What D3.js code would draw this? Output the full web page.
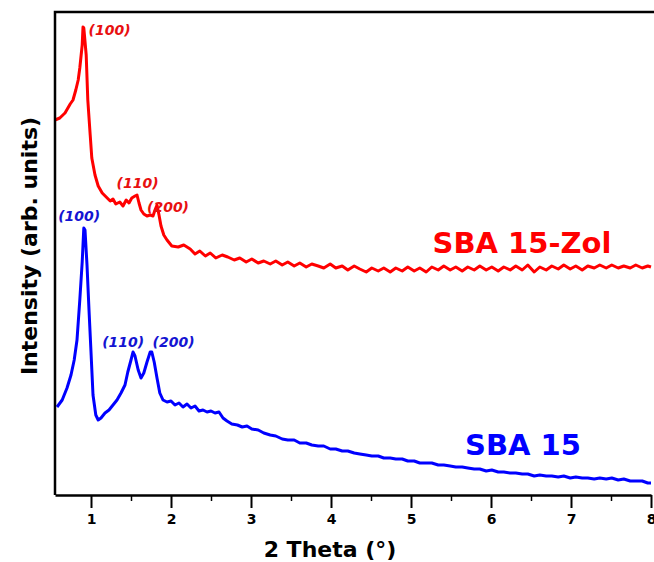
<!DOCTYPE html>
<html>
<head>
<meta charset="utf-8">
<script src="https://cdn.jsdelivr.net/npm/d3@7"></script>
<style>
  body { margin: 0; background: #fff; }
  svg { display: block; font-family: "DejaVu Sans", Verdana, sans-serif; }
</style>
</head>
<body>
<div id="chart"></div>
<script>
// 2 Theta values (deg) and intensities (arb. units)
const zolTheta = [0.55,0.61,0.675,0.74,0.775,0.81,0.84,0.86,0.89,0.90,0.91,0.94,0.96,0.99,1.01,1.05,1.09,1.14,1.19,1.24,1.275,1.31,1.36,1.40,1.44,1.475,1.51,1.55,1.575,1.60,1.625,1.66,1.70,1.74,1.775,1.80,1.825,1.85,1.875,1.91,1.95,2.01,2.09,2.16,2.24,2.30,2.36,2.43,2.49,2.56,2.64,2.71,2.79,2.86,2.94,3.01,3.09,3.16,3.24,3.31,3.39,3.46,3.54,3.61,3.69,3.76,3.84,3.91,3.99,4.06,4.14,4.21,4.29,4.36,4.44,4.51,4.59,4.66,4.74,4.81,4.89,4.96,5.04,5.11,5.19,5.26,5.34,5.41,5.49,5.56,5.64,5.71,5.79,5.86,5.94,6.01,6.09,6.16,6.24,6.31,6.39,6.46,6.54,6.61,6.69,6.76,6.84,6.91,6.99,7.06,7.14,7.21,7.29,7.36,7.44,7.51,7.59,7.66,7.74,7.81,7.89,7.96,8.0];
const zolIntensity = [375,377,382,391,395,405,415,427,450,468,467,440,395,360,337,320,309,302,298,294,296,291,293,289,295,292,297,299,300,292,285,281,279,280,279,285,290,280,269,260,255,249,248,250,246,241,244,239,242,237,240,238,235,237,233,236,232,234,231,234,230,233,229,232,228,231,229,227,231,227,229,225,229,226,223,227,224,227,223,227,224,228,224,227,223,228,225,229,225,228,224,228,225,229,225,228,224,228,225,229,225,230,223,228,225,229,226,230,226,229,225,229,227,230,227,230,227,229,227,230,227,229,228];

const sbaTheta = [0.575,0.64,0.70,0.75,0.79,0.825,0.86,0.89,0.91,0.925,0.95,0.975,1.0,1.025,1.06,1.09,1.125,1.175,1.225,1.275,1.325,1.375,1.425,1.46,1.50,1.525,1.55,1.59,1.625,1.66,1.70,1.74,1.76,1.79,1.825,1.86,1.90,1.95,2.0,2.05,2.10,2.15,2.20,2.25,2.30,2.35,2.40,2.45,2.50,2.55,2.60,2.65,2.70,2.76,2.83,2.89,2.95,3.01,3.09,3.16,3.24,3.31,3.39,3.46,3.54,3.61,3.69,3.76,3.84,3.91,3.99,4.06,4.14,4.21,4.29,4.36,4.44,4.51,4.59,4.66,4.74,4.81,4.89,4.96,5.04,5.11,5.19,5.26,5.34,5.41,5.49,5.56,5.64,5.71,5.79,5.86,5.94,6.01,6.09,6.16,6.24,6.31,6.39,6.46,6.54,6.61,6.69,6.76,6.84,6.91,6.99,7.06,7.14,7.21,7.29,7.36,7.44,7.51,7.59,7.66,7.74,7.81,7.89,7.96,8.0];
const sbaIntensity = [88,95,107,120,135,155,195,233,267,265,230,185,143,100,80,75,77,82,85,90,95,102,110,123,135,143,139,125,117,122,133,143,143,133,117,102,95,93,94,90,92,88,91,87,89,84,85,83,84,82,83,77,74,71,70,68,69,66,65,62,60,59,56,55,55,52,52,50,49,49,46,46,44,44,42,41,40,39,39,37,37,36,36,34,34,32,32,32,30,30,29,28,28,27,26,26,24,25,23,23,22,22,21,21,19,20,19,19,18,19,17,18,17,17,16,17,16,17,15,16,14,14,14,12,12];

const xTicks = [1, 2, 3, 4, 5, 6, 7, 8];
const xMinorTicks = [1.5, 2.5, 3.5, 4.5, 5.5, 6.5, 7.5];

// peak labels: [theta, intensity, text]
const zolPeaks = [[0.97, 460, "(100)"], [1.32, 307, "(110)"], [1.70, 283, "(200)"]];
const sbaPeaks = [[0.59, 274, "(100)"], [1.14, 148, "(110)"], [1.77, 148, "(200)"]];

const width = 654, height = 562;
const margin = { top: 12, right: 3, bottom: 67, left: 55 };

const svg = d3.select("#chart").append("svg")
    .attr("width", width)
    .attr("height", height);

const x = d3.scaleLinear()
    .domain([0.55, 8.0])
    .range([margin.left, width - margin.right]);

const y = d3.scaleLinear()
    .domain([0, 483])
    .range([height - margin.bottom, margin.top]);

const line = d3.line()
    .x(d => x(d[0]))
    .y(d => y(d[1]));

const zolData = d3.zip(zolTheta, zolIntensity);
const sbaData = d3.zip(sbaTheta, sbaIntensity);

svg.append("path")
    .datum(zolData)
    .attr("fill", "none")
    .attr("stroke", "#ff0000")
    .attr("stroke-width", 3)
    .attr("stroke-linejoin", "round")
    .attr("d", line);

svg.append("path")
    .datum(sbaData)
    .attr("fill", "none")
    .attr("stroke", "#0000ff")
    .attr("stroke-width", 3)
    .attr("stroke-linejoin", "round")
    .attr("d", line);

// frame: left and top
svg.append("path")
    .attr("fill", "none")
    .attr("stroke", "#000")
    .attr("stroke-width", 2.5)
    .attr("d", `M${width},${margin.top}H${margin.left}V${height - margin.bottom}`);

// x axis
const xAxis = svg.append("g")
    .attr("transform", `translate(0,${height - margin.bottom})`)
    .call(d3.axisBottom(x).tickValues(xTicks).tickFormat(d3.format("d")).tickSize(13).tickSizeOuter(0).tickPadding(6));

xAxis.select(".domain").attr("stroke-width", 2.5);
xAxis.selectAll(".tick line").attr("stroke-width", 2);
xAxis.selectAll(".tick text")
    .attr("font-size", 14)
    .attr("font-weight", "bold")
    .attr("font-family", "DejaVu Sans, sans-serif");

svg.append("g")
    .attr("transform", `translate(0,${height - margin.bottom})`)
    .call(d3.axisBottom(x).tickValues(xMinorTicks).tickFormat("").tickSize(6).tickSizeOuter(0))
    .call(g => g.select(".domain").remove())
    .selectAll(".tick line").attr("stroke-width", 1.5);

// axis titles
svg.append("text")
    .attr("x", 330)
    .attr("y", 557)
    .attr("text-anchor", "middle")
    .attr("font-size", 22)
    .attr("font-weight", "bold")
    .text("2 Theta (\u00B0)");

svg.append("text")
    .attr("transform", "translate(37,246) rotate(-90)")
    .attr("text-anchor", "middle")
    .attr("font-size", 22)
    .attr("font-weight", "bold")
    .text("Intensity (arb. units)");

// peak labels
svg.selectAll(".zolPeak")
    .data(zolPeaks)
    .enter().append("text")
    .attr("x", d => x(d[0]))
    .attr("y", d => y(d[1]))
    .attr("fill", "#e81010")
    .attr("font-size", 14)
    .attr("font-weight", "bold")
    .attr("font-style", "italic")
    .text(d => d[2]);

svg.selectAll(".sbaPeak")
    .data(sbaPeaks)
    .enter().append("text")
    .attr("x", d => x(d[0]))
    .attr("y", d => y(d[1]))
    .attr("fill", "#1414d2")
    .attr("font-size", 14)
    .attr("font-weight", "bold")
    .attr("font-style", "italic")
    .text(d => d[2]);

// series labels
svg.append("text")
    .attr("x", 522)
    .attr("y", 253)
    .attr("text-anchor", "middle")
    .attr("fill", "#ff0000")
    .attr("font-size", 29)
    .attr("font-weight", "bold")
    .text("SBA 15-Zol");

svg.append("text")
    .attr("x", 523)
    .attr("y", 455)
    .attr("text-anchor", "middle")
    .attr("fill", "#0000ff")
    .attr("font-size", 29)
    .attr("font-weight", "bold")
    .text("SBA 15");
</script>
</body>
</html>
